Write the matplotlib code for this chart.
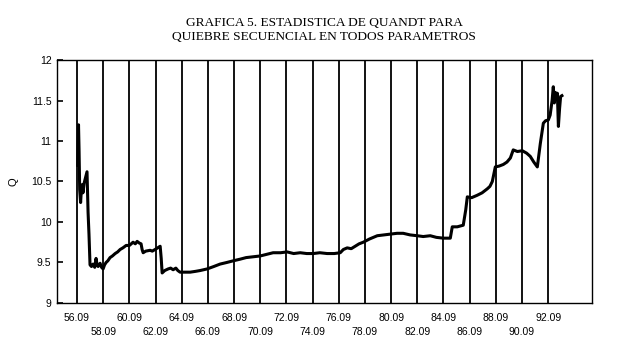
import matplotlib
matplotlib.use("Agg")
import matplotlib.pyplot as plt
import numpy as np

# Decimal year vs Quandt statistic
years = [1956.80, 1956.86, 1956.90, 1956.95, 1957.02, 1957.08, 1957.13, 1957.20, 1957.29,
         1957.40, 1957.51, 1957.59, 1957.66, 1957.74, 1957.85, 1957.97, 1958.10, 1958.20,
         1958.28, 1958.36, 1958.51, 1958.62, 1958.74, 1958.85, 1958.97, 1959.10, 1959.27,
         1959.45, 1959.66, 1959.85, 1960.04, 1960.25, 1960.50, 1960.75, 1961.03, 1961.20,
         1961.34, 1961.50, 1961.64, 1961.72, 1961.80, 1962.00, 1962.33, 1962.50, 1962.71,
         1962.90, 1963.10, 1963.18, 1963.25, 1963.45, 1963.71, 1963.90, 1964.09, 1964.30,
         1964.45, 1964.62, 1965.00, 1965.39, 1965.80, 1966.15, 1966.69, 1967.20, 1967.68,
         1968.20, 1968.68, 1969.20, 1969.67, 1970.20, 1970.74, 1971.25, 1971.73, 1972.30,
         1972.80, 1973.30, 1973.80, 1974.30, 1974.79, 1975.30, 1975.86, 1976.40, 1976.86,
         1977.10, 1977.39, 1977.70, 1978.00, 1978.30, 1978.62, 1979.10, 1979.69, 1980.20,
         1980.68, 1981.20, 1981.67, 1982.20, 1982.74, 1983.20, 1983.74, 1984.20, 1984.73,
         1985.00, 1985.27, 1985.42, 1985.80, 1986.26, 1986.45, 1986.57, 1986.90, 1987.33,
         1987.70, 1988.10, 1988.30, 1988.48, 1988.71, 1989.00, 1989.32, 1989.60, 1989.86,
         1990.08, 1990.40, 1990.77, 1991.10, 1991.38, 1991.65, 1991.92, 1992.05, 1992.15,
         1992.38, 1992.55, 1992.76, 1992.90, 1993.05, 1993.14, 1993.22, 1993.30, 1993.37,
         1993.45, 1993.53, 1993.62, 1993.70, 1993.80]
q_values = [10.70, 11.20, 10.90, 10.40, 10.24, 10.40, 10.46, 10.36, 10.48,
            10.55, 10.62, 10.12, 9.85, 9.47, 9.45, 9.48, 9.44, 9.55,
            9.47, 9.45, 9.49, 9.44, 9.42, 9.47, 9.50, 9.52, 9.56,
            9.58, 9.61, 9.63, 9.66, 9.68, 9.71, 9.71, 9.75, 9.73,
            9.76, 9.74, 9.73, 9.66, 9.62, 9.64, 9.65, 9.64, 9.66,
            9.68, 9.70, 9.55, 9.37, 9.40, 9.42, 9.43, 9.41, 9.43,
            9.40, 9.38, 9.38, 9.38, 9.39, 9.40, 9.42, 9.45, 9.48,
            9.50, 9.52, 9.54, 9.56, 9.57, 9.58, 9.60, 9.62, 9.62,
            9.63, 9.61, 9.62, 9.61, 9.61, 9.62, 9.61, 9.61, 9.62,
            9.66, 9.68, 9.67, 9.70, 9.73, 9.75, 9.79, 9.83, 9.84,
            9.85, 9.86, 9.86, 9.84, 9.83, 9.82, 9.83, 9.81, 9.80,
            9.80, 9.80, 9.94, 9.94, 9.96, 10.15, 10.31, 10.30, 10.33,
            10.36, 10.41, 10.44, 10.50, 10.68, 10.69, 10.71, 10.74, 10.79,
            10.89, 10.87, 10.88, 10.85, 10.81, 10.74, 10.68, 10.85, 10.97,
            11.22, 11.25, 11.26, 11.32, 11.50, 11.67, 11.47, 11.60, 11.52,
            11.59, 11.18, 11.40, 11.55, 11.56]

tick_years = [1956.75 + 2 * k for k in range(19)]
tick_labels = ["56.09", "58.09", "60.09", "62.09", "64.09", "66.09", "68.09", "70.09",
               "72.09", "74.09", "76.09", "78.09", "80.09", "82.09", "84.09", "86.09",
               "88.09", "90.09", "92.09"]
y_ticks = [9, 9.5, 10, 10.5, 11, 11.5, 12]
y_labels = ["9", "9.5", "10", "10.5", "11", "11.5", "12"]

title = "GRAFICA 5. ESTADISTICA DE QUANDT PARA\nQUIEBRE SECUENCIAL EN TODOS PARAMETROS"

fig = plt.figure(figsize=(6.41, 3.49), dpi=100)
ax = fig.add_axes([0.089, 0.132, 0.8346, 0.696])

for t in tick_years:
    ax.axvline(t, color="black", linewidth=1.3, zorder=1)

ax.plot(years, q_values, color="black", linewidth=2.2, zorder=3)

ax.set_xlim(1955.22, 1996.1)
ax.set_ylim(9, 12)
ax.set_xticks(tick_years)
ax.set_xticklabels([lab if i % 2 == 0 else "\n" + lab for i, lab in enumerate(tick_labels)],
                   fontsize=7.5, family="Liberation Sans")
for lab in ax.get_xticklabels():
    lab.set_linespacing(1.55)
ax.set_yticks(y_ticks)
ax.set_yticklabels(y_labels, fontsize=7.5, family="Liberation Sans")
ax.tick_params(axis="y", direction="in", length=4, width=1.2, pad=4)
ax.tick_params(axis="x", direction="in", length=0, pad=7)
ax.set_ylabel("Q", fontsize=8, family="Liberation Sans", labelpad=9)

for s in ax.spines.values():
    s.set_linewidth(1.0)
    s.set_color("black")

fig.text(0.506, 0.952, title, ha="center", va="top", fontsize=9.6,
         family="Liberation Serif", linespacing=1.2)

fig.savefig("out.png", dpi=100)
